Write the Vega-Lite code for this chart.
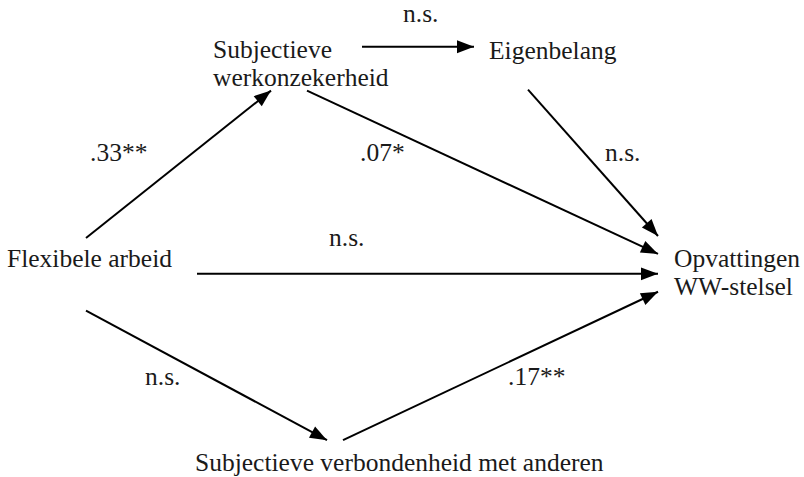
{
  "$schema": "https://vega.github.io/schema/vega-lite/v6.json",
  "width": 804,
  "height": 477,
  "autosize": {"type": "fit", "contains": "padding"},
  "padding": 0,
  "background": "white",
  "config": {"view": {"stroke": null}},
  "datasets": {
    "edges": [
      {"from": "Flexibele arbeid", "to": "Subjectieve werkonzekerheid", "x1": 86, "y1": 239, "x2": 271, "y2": 91},
      {"from": "Subjectieve werkonzekerheid", "to": "Eigenbelang", "x1": 362, "y1": 47, "x2": 474, "y2": 47},
      {"from": "Subjectieve werkonzekerheid", "to": "Opvattingen WW-stelsel", "x1": 307, "y1": 91, "x2": 658, "y2": 255},
      {"from": "Eigenbelang", "to": "Opvattingen WW-stelsel", "x1": 528, "y1": 90, "x2": 658, "y2": 237},
      {"from": "Flexibele arbeid", "to": "Opvattingen WW-stelsel", "x1": 197, "y1": 275, "x2": 658, "y2": 275},
      {"from": "Flexibele arbeid", "to": "Subjectieve verbondenheid met anderen", "x1": 86, "y1": 312, "x2": 327, "y2": 442},
      {"from": "Subjectieve verbondenheid met anderen", "to": "Opvattingen WW-stelsel", "x1": 343, "y1": 442, "x2": 658, "y2": 293}
    ],
    "labels": [
      {"label": "n.s.", "lx": 403, "ly": 22},
      {"label": "Subjectieve", "lx": 213, "ly": 58},
      {"label": "werkonzekerheid", "lx": 213, "ly": 86},
      {"label": "Eigenbelang", "lx": 489, "ly": 59},
      {"label": ".33**", "lx": 90, "ly": 162},
      {"label": ".07*", "lx": 360, "ly": 162},
      {"label": "n.s.", "lx": 605, "ly": 162},
      {"label": "Flexibele arbeid", "lx": 7, "ly": 268},
      {"label": "n.s.", "lx": 329, "ly": 247},
      {"label": "Opvattingen", "lx": 674, "ly": 268},
      {"label": "WW-stelsel", "lx": 674, "ly": 296},
      {"label": "n.s.", "lx": 145, "ly": 387},
      {"label": ".17**", "lx": 508, "ly": 387},
      {"label": "Subjectieve verbondenheid met anderen", "lx": 195, "ly": 473}
    ]
  },
  "layer": [
    {
      "data": {"name": "edges"},
      "mark": {"type": "rule", "color": "#000000", "strokeWidth": 2},
      "encoding": {
        "x": {"field": "x1", "type": "quantitative", "scale": {"domain": [0, 804], "nice": false, "zero": false}, "axis": null},
        "y": {"field": "y1", "type": "quantitative", "scale": {"domain": [0, 477], "nice": false, "zero": false, "reverse": true}, "axis": null},
        "x2": {"field": "x2"},
        "y2": {"field": "y2"}
      }
    },
    {
      "data": {"name": "edges"},
      "transform": [
        {"calculate": "atan2(datum.x2 - datum.x1, datum.y1 - datum.y2) * 180 / PI", "as": "heading"}
      ],
      "mark": {"type": "point", "shape": "M0,0L0.38,1L-0.38,1Z", "filled": true, "color": "#000000", "opacity": 1, "strokeWidth": 0, "size": 1156},
      "encoding": {
        "x": {"field": "x2", "type": "quantitative"},
        "y": {"field": "y2", "type": "quantitative"},
        "angle": {"field": "heading", "type": "quantitative", "scale": null}
      }
    },
    {
      "data": {"name": "labels"},
      "mark": {"type": "text", "align": "left", "baseline": "alphabetic", "font": "'Liberation Serif', 'DejaVu Serif', serif", "fontSize": 25.5, "color": "#1a1a1a"},
      "encoding": {
        "x": {"field": "lx", "type": "quantitative"},
        "y": {"field": "ly", "type": "quantitative"},
        "text": {"field": "label"}
      }
    }
  ]
}
